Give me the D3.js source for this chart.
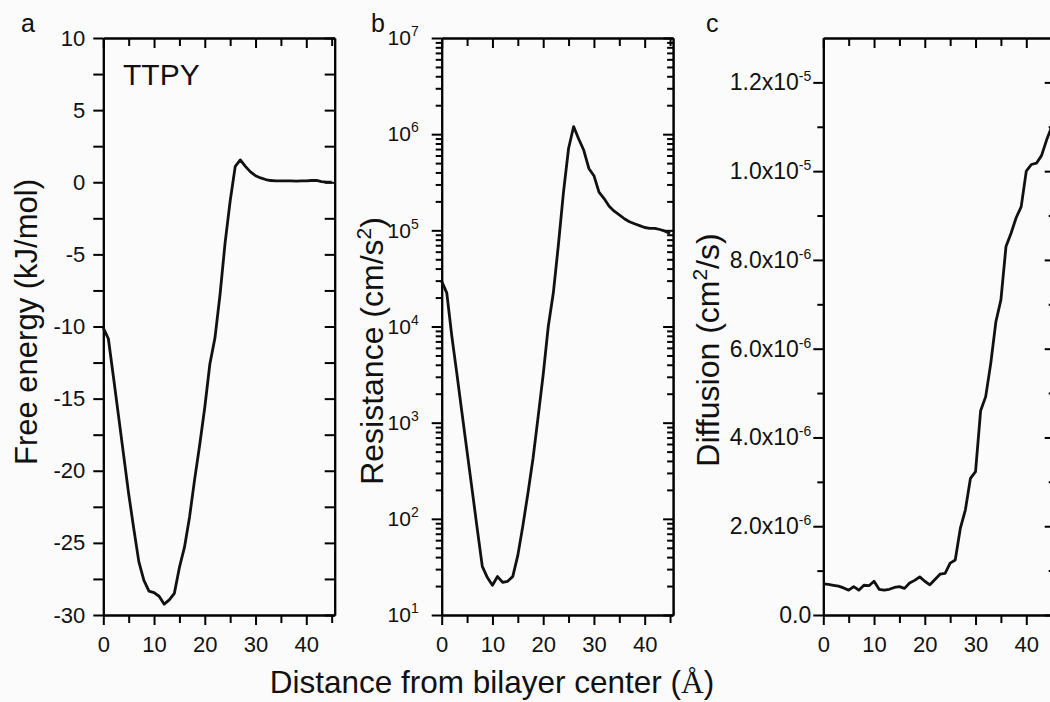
<!DOCTYPE html>
<html>
<head>
<meta charset="utf-8">
<script src="https://cdn.jsdelivr.net/npm/d3@7"></script>
<style>
body { margin: 0; background: #fbfbfb; }
svg { display: block; font-family: Arial, "Liberation Sans", sans-serif; }
</style>
</head>
<body>
<svg id="chart" width="1050" height="702"></svg>
<script>
// distance from bilayer center (A)
var distance = [0, 1, 2, 3, 4, 5, 6, 7, 8, 9, 10, 11, 12, 13, 14, 15, 16, 17, 18, 19, 20, 21, 22,
	23, 24, 25, 26, 27, 28, 29, 30, 31, 32, 33, 34, 35, 36, 37, 38, 39, 40, 41, 42, 43, 44, 45];

// free energy (kJ/mol)
var freeEnergy = [-10.1, -10.85, -13.5, -16.2, -18.9, -21.6, -24.0, -26.3, -27.6, -28.35, -28.45,
	-28.7, -29.25, -28.95, -28.5, -26.7, -25.3, -23.2, -20.6, -18.2, -15.6, -12.6, -10.8, -7.8,
	-4.2, -1.3, 1.1, 1.55, 1.1, 0.72, 0.45, 0.3, 0.19, 0.12, 0.09, 0.1, 0.09, 0.1, 0.08, 0.1,
	0.09, 0.12, 0.13, 0.04, 0.01, 0.0];

// resistance (cm/s^2)
var resistance = [2.95e4, 2.24e4, 7.9e3, 3.2e3, 1.26e3, 500, 200, 79, 32, 24.5, 20.4, 25.1,
	21.9, 22.4, 25.1, 41.7, 85, 186, 427, 1150, 3160, 1.0e4, 2.24e4, 7.1e4, 2.5e5, 7.1e5,
	1.2e6, 8.9e5, 6.8e5, 4.4e5, 3.7e5, 2.5e5, 2.14e5, 1.78e5, 1.58e5, 1.45e5, 1.32e5, 1.23e5,
	1.17e5, 1.12e5, 1.07e5, 1.05e5, 1.05e5, 1.02e5, 9.8e4, 9.3e4];

// diffusion (cm^2/s)
var diffusion = [7.0e-7, 6.9e-7, 6.7e-7, 6.5e-7, 6.1e-7, 5.6e-7, 6.4e-7, 5.6e-7, 6.7e-7, 6.6e-7,
	7.6e-7, 5.8e-7, 5.6e-7, 5.8e-7, 6.2e-7, 6.4e-7, 6.0e-7, 7.2e-7, 7.8e-7, 8.6e-7, 7.6e-7,
	6.8e-7, 8.0e-7, 9.2e-7, 9.4e-7, 1.17e-6, 1.24e-6, 1.95e-6, 2.37e-6, 3.08e-6, 3.23e-6,
	4.6e-6, 4.92e-6, 5.67e-6, 6.6e-6, 7.1e-6, 8.3e-6, 8.6e-6, 8.95e-6, 9.2e-6, 1.0e-5,
	1.015e-5, 1.018e-5, 1.035e-5, 1.07e-5, 1.1e-5];

// tick values
var xTicks = [0, 10, 20, 30, 40];
var xMinor = [5, 15, 25, 35, 45];
var energyTicks = [-30, -25, -20, -15, -10, -5, 0, 5, 10];
var energyMinor = [-27.5, -22.5, -17.5, -12.5, -7.5, -2.5, 2.5, 7.5];
var resistanceTicks = [1e1, 1e2, 1e3, 1e4, 1e5, 1e6, 1e7];
var resistanceMinor = [];
resistanceTicks.slice(0, -1).forEach(function(d) {
	[2, 3, 4, 5, 6, 7, 8, 9].forEach(function(m) { resistanceMinor.push(d * m); });
});
var diffusionTicks = [0, 2e-6, 4e-6, 6e-6, 8e-6, 1.0e-5, 1.2e-5];
var diffusionMinor = [1e-6, 3e-6, 5e-6, 7e-6, 9e-6, 1.1e-5];

var svg = d3.select("#chart");

// plot frame (same for all three panels)
var plotTop = 38, plotBottom = 615, plotWidth = 231.4;

// add "base" then a raised exponent to a text element
function supText(sel, base, exp) {
	sel.text(null);
	sel.append("tspan").text(base);
	sel.append("tspan").attr("dy", -9).style("font-size", "14px").text(exp);
}

function panel(opts) {
	var g = svg.append("g");
	var x = d3.scaleLinear().domain([0, 45.6]).range([opts.left, opts.left + plotWidth]);
	var y = opts.y;

	// minor ticks first
	g.append("g").attr("transform", "translate(0," + plotBottom + ")")
		.call(d3.axisBottom(x).tickValues(xMinor).tickSize(8).tickSizeOuter(0).tickFormat(""));
	g.append("g").attr("transform", "translate(0," + plotTop + ")")
		.call(d3.axisTop(x).tickValues(xMinor).tickSize(-8).tickSizeOuter(0).tickFormat(""));
	g.append("g").attr("transform", "translate(" + opts.left + ",0)")
		.call(d3.axisLeft(y).tickValues(opts.yMinor).tickSize(opts.minorLen).tickSizeOuter(0).tickFormat(""));
	g.append("g").attr("transform", "translate(" + (opts.left + plotWidth) + ",0)")
		.call(d3.axisRight(y).tickValues(opts.yMinor).tickSize(-opts.minorLen).tickSizeOuter(0).tickFormat(""));

	// major ticks
	var xb = g.append("g").attr("transform", "translate(0," + plotBottom + ")")
		.call(d3.axisBottom(x).tickValues(xTicks).tickSize(10).tickSizeOuter(0).tickPadding(11));
	g.append("g").attr("transform", "translate(0," + plotTop + ")")
		.call(d3.axisTop(x).tickValues(xTicks).tickSize(-10).tickSizeOuter(0).tickFormat(""));
	var yl = g.append("g").attr("transform", "translate(" + opts.left + ",0)")
		.call(d3.axisLeft(y).tickValues(opts.yTicks).tickSize(10).tickSizeOuter(0).tickPadding(opts.pad));
	g.append("g").attr("transform", "translate(" + (opts.left + plotWidth) + ",0)")
		.call(d3.axisRight(y).tickValues(opts.yTicks).tickSize(-10).tickSizeOuter(0).tickFormat(""));

	yl.selectAll(".tick text").each(function(d) { opts.fmt(d3.select(this), d); })
		.style("font-size", opts.fontSize);
	xb.selectAll(".tick text").style("font-size", "22px");

	g.selectAll(".domain").attr("stroke-width", 2);
	g.selectAll(".tick line").attr("stroke-width", 2);
	g.selectAll("text").attr("fill", "#111").style("font-family", "Arial, 'Liberation Sans', sans-serif");

	// curve
	var line = d3.line()
		.x(function(d, i) { return x(distance[i]); })
		.y(function(d) { return y(d); });
	g.append("path")
		.datum(opts.values)
		.attr("d", line)
		.attr("fill", "none")
		.attr("stroke", "#111")
		.attr("stroke-width", 2.8)
		.attr("stroke-linejoin", "round");

	// panel letter
	g.append("text")
		.attr("x", opts.letterX).attr("y", 32)
		.style("font-size", "25px").attr("fill", "#111")
		.text(opts.letter);

	// y title
	var t = g.append("text")
		.attr("transform", "translate(" + opts.titleX + "," + opts.titleY + ") rotate(-90)")
		.attr("text-anchor", "middle")
		.style("font-size", opts.titleSize).attr("fill", "#111");
	opts.title(t);
	return g;
}

// a: free energy
panel({
	left: 103.3,
	y: d3.scaleLinear().domain([-30, 10]).range([plotBottom, plotTop]),
	yTicks: energyTicks, yMinor: energyMinor, minorLen: 10, pad: 8,
	fontSize: "22px",
	fmt: function(s, d) { s.text(d); },
	values: freeEnergy,
	letter: "a", letterX: 21,
	titleX: 37, titleY: 322, titleSize: "31px",
	title: function(t) { t.text("Free energy (kJ/mol)"); }
});

// b: resistance, log scale
panel({
	left: 441.7,
	y: d3.scaleLog().domain([1e1, 1e7]).range([plotBottom, plotTop]),
	yTicks: resistanceTicks, yMinor: resistanceMinor, minorLen: 6, pad: 13,
	fontSize: "21px",
	fmt: function(s, d) { supText(s, "10", Math.round(Math.log10(d))); },
	values: resistance,
	letter: "b", letterX: 371,
	titleX: 383, titleY: 351, titleSize: "32px",
	title: function(t) {
		t.append("tspan").text("Resistance (cm/s");
		t.append("tspan").attr("dy", -12).style("font-size", "21px").text("2");
		t.append("tspan").attr("dy", 12).text(")");
	}
});

// c: diffusion
panel({
	left: 823.3,
	y: d3.scaleLinear().domain([0, 1.3e-5]).range([plotBottom, plotTop]),
	yTicks: diffusionTicks, yMinor: diffusionMinor, minorLen: 6, pad: 2,
	fontSize: "23px",
	fmt: function(s, d) {
		if (d === 0) { s.text("0.0"); return; }
		var e = Math.floor(Math.log10(d));
		supText(s, (d / Math.pow(10, e)).toFixed(1) + "x10", e);
	},
	values: diffusion,
	letter: "c", letterX: 706,
	titleX: 719, titleY: 350, titleSize: "32px",
	title: function(t) {
		t.append("tspan").text("Diffusion (cm");
		t.append("tspan").attr("dy", -12).style("font-size", "21px").text("2");
		t.append("tspan").attr("dy", 12).text("/s)");
	}
});

// TTPY label in panel a
svg.append("text")
	.attr("x", 123).attr("y", 85)
	.style("font-size", "30px").attr("fill", "#111")
	.text("TTPY");

// shared x title
var xt = svg.append("text")
	.attr("x", 492).attr("y", 693)
	.attr("text-anchor", "middle")
	.style("font-size", "31.5px").attr("fill", "#111");
xt.append("tspan").text("Distance from bilayer center (");
xt.append("tspan").style("font-family", "'Liberation Serif', 'DejaVu Serif', serif").text("\u00c5");
xt.append("tspan").text(")");
</script>
</body>
</html>
